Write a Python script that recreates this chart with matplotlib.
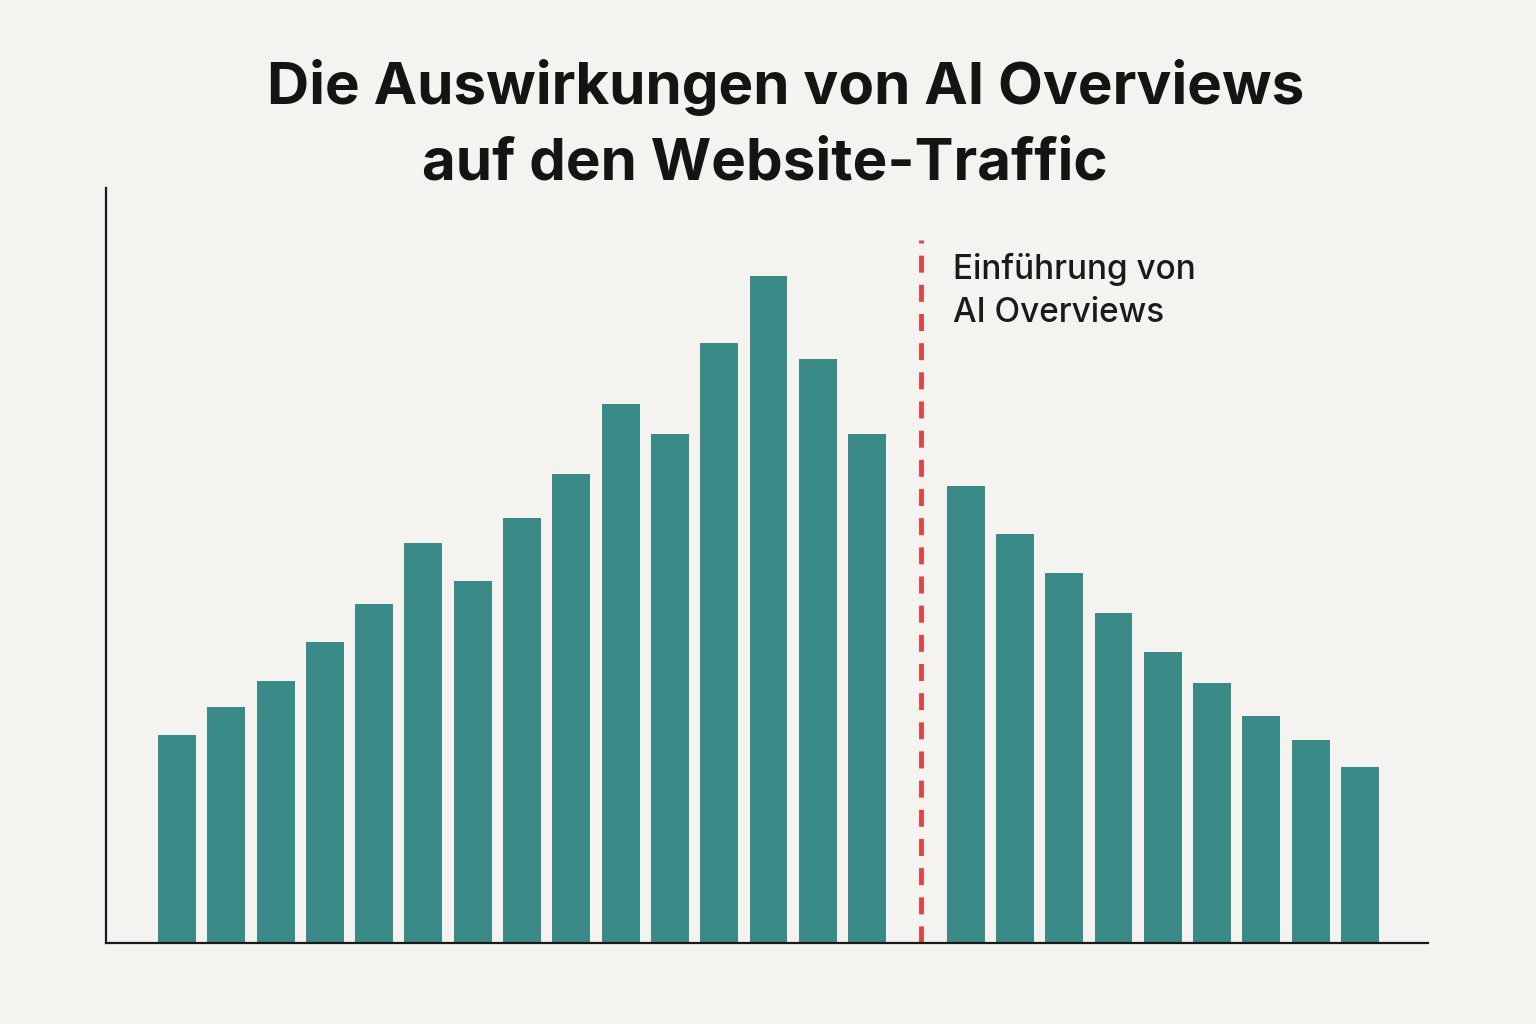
import matplotlib
matplotlib.use("Agg")
import matplotlib.pyplot as plt

pre_values = [208, 236, 262, 301, 339, 400, 362, 425, 469, 539, 509, 600, 667, 584, 509]
post_values = [457, 409, 370, 330, 291, 260, 227, 203, 176]
launch_label = "Einführung von\nAI Overviews"
title_lines = ["Die Auswirkungen von AI Overviews", "auf den Website-Traffic"]

bg = "#f5f3ef"
bar_color = "#3a8a88"
fig = plt.figure(figsize=(15.36, 10.24), dpi=100, facecolor=bg)
ax = fig.add_axes([106/1536, 81/1024, 1322/1536, 755/1024], facecolor=bg)

n_pre = len(pre_values)
x_pre = list(range(n_pre))
x_post = [n_pre + 1 + i for i in range(len(post_values))]
ax.bar(x_pre, pre_values, width=0.77, color=bar_color)
ax.bar(x_post, post_values, width=0.77, color=bar_color)
ax.plot([n_pre + 0.1, n_pre + 0.1], [0, 703], color="#e04444", lw=3.5, ls=(0, (3.5, 2.5)))
ax.text(n_pre + 0.75, 690, launch_label, fontsize=24, fontweight="medium",
        va="top", ha="left", color="#1a1a1a", linespacing=1.45, family="Inter")

ax.set_xlim(-1.44, 25.38)
ax.set_ylim(0, 755)
for s in ["top", "right"]:
    ax.spines[s].set_visible(False)
for s in ["left", "bottom"]:
    ax.spines[s].set_linewidth(1.6)
    ax.spines[s].set_color("#1a1a1a")
ax.set_xticks([]); ax.set_yticks([])

fig.text(786/1536, 1 - 88/1024, title_lines[0], ha="center", va="center",
         fontsize=42, fontweight="bold", color="#141414", family="Inter")
fig.text(765/1536, 1 - 165/1024, title_lines[1], ha="center", va="center",
         fontsize=42, fontweight="bold", color="#141414", family="Inter")
fig.savefig("out.png", dpi=100, facecolor=bg)
